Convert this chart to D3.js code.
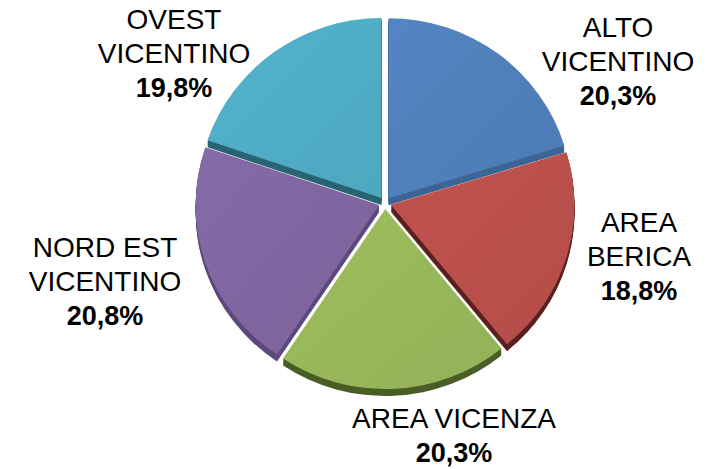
<!DOCTYPE html>
<html lang="it">
<head>
<meta charset="UTF-8">
<title>Ripartizione per area</title>
<script src="https://cdn.jsdelivr.net/npm/d3@7"></script>
<style>
    body { margin: 0; background: #fff; }
    .chart text {
        font-family: "Liberation Sans", Arial, sans-serif;
        fill: #000;
        text-anchor: middle;
    }
    .chart .name { font-size: 28px; }
    .chart .pct { font-size: 27px; font-weight: bold; }
</style>
</head>
<body>
<svg class="chart"></svg>
<script>
    // dati
    let categories = ['ALTO VICENTINO', 'AREA BERICA', 'AREA VICENZA', 'NORD EST VICENTINO', 'OVEST VICENTINO'];
    let values = [20.3, 18.8, 20.3, 20.8, 19.8];
    let labelLines = [['ALTO', 'VICENTINO'], ['AREA', 'BERICA'], ['AREA VICENZA'], ['NORD EST', 'VICENTINO'], ['OVEST', 'VICENTINO']];

    // stile / layout
    let colors = ['#4f7fba', '#b94f4b', '#97b65a', '#7f66a0', '#4facc5'];
    let sideColors = ['#3d6595', '#5a2220', '#4b5e28', '#5d4a7c', '#2a6474'];
    let labelAnchor = [[618, 37], [639, 232], [454, 428], [105, 257], [174, 29]];

    let width = 710, height = 469;
    let cx = 385, cy = 203, r = 180, sx = 1.02;
    let explode = 6, depth = 7, lineH = 34;

    let svg = d3.select('.chart').attr('width', width).attr('height', height);
    let defs = svg.append('defs');

    colors.forEach((c, i) => {
        let g = defs.append('linearGradient')
            .attr('id', 'grad' + i)
            .attr('x1', 0).attr('y1', 0).attr('x2', 1).attr('y2', 1);
        g.append('stop').attr('offset', '0%').attr('stop-color', d3.color(c).brighter(0.12));
        g.append('stop').attr('offset', '100%').attr('stop-color', d3.color(c).darker(0.08));
    });

    let arcs = d3.pie().sort(null).value(d => d)(values);
    let arc = d3.arc().innerRadius(0).outerRadius(r);

    function shift(d) {
        let mid = (d.startAngle + d.endAngle) / 2;
        return [Math.sin(mid) * explode, -Math.cos(mid) * explode];
    }

    let pieG = svg.append('g')
        .attr('transform', 'translate(' + cx + ',' + cy + ') scale(' + sx + ',1)');

    // fianchi 3D
    let sides = pieG.append('g');
    arcs.forEach((d, i) => {
        let s = shift(d);
        for (let k = depth; k >= 1; k--) {
            sides.append('path')
                .attr('d', arc(d))
                .attr('transform', 'translate(' + s[0] + ',' + (s[1] + k) + ')')
                .attr('fill', sideColors[i]);
        }
    });

    // facce superiori
    pieG.append('g').selectAll('path')
        .data(arcs)
        .enter().append('path')
        .attr('d', arc)
        .attr('transform', d => { let s = shift(d); return 'translate(' + s[0] + ',' + s[1] + ')'; })
        .attr('fill', (d, i) => 'url(#grad' + i + ')');

    // etichette
    let fmt = v => d3.format('.1f')(v).replace('.', ',') + '%';
    let labels = svg.append('g').selectAll('text')
        .data(categories)
        .enter().append('text')
        .attr('x', (d, i) => labelAnchor[i][0])
        .attr('y', (d, i) => labelAnchor[i][1]);

    labels.each(function (d, i) {
        let t = d3.select(this);
        labelLines[i].forEach((line, j) => {
            t.append('tspan')
                .attr('class', 'name')
                .attr('x', labelAnchor[i][0])
                .attr('y', labelAnchor[i][1] + j * lineH)
                .text(line);
        });
        t.append('tspan')
            .attr('class', 'pct')
            .attr('x', labelAnchor[i][0])
            .attr('y', labelAnchor[i][1] + labelLines[i].length * lineH)
            .text(fmt(values[i]));
    });
</script>
</body>
</html>
